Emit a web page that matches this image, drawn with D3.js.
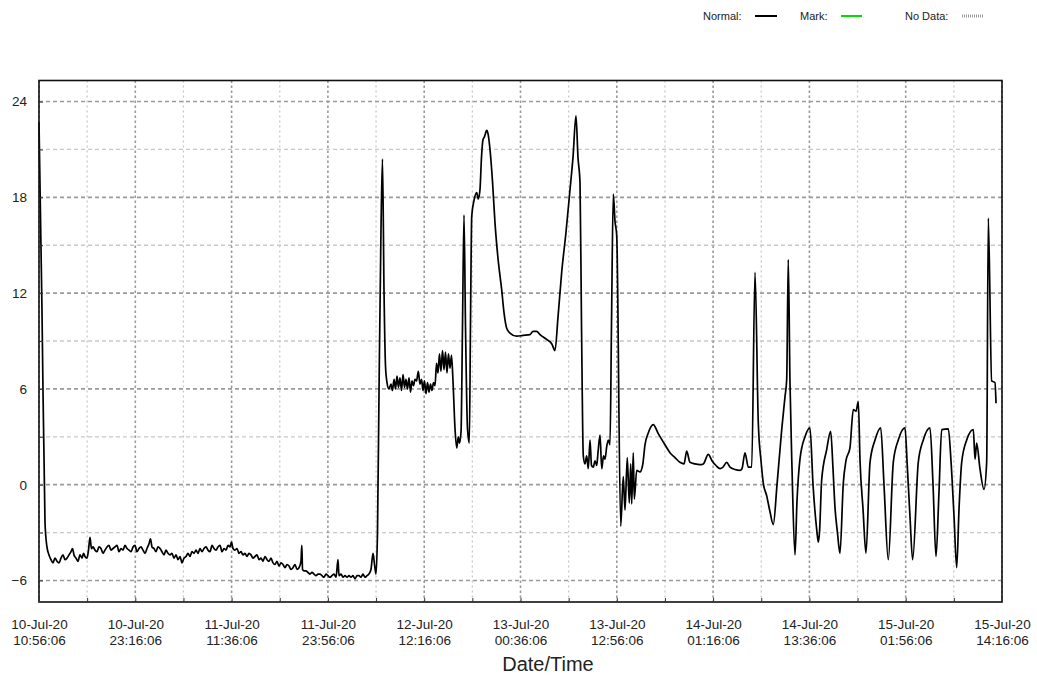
<!DOCTYPE html>
<html>
<head>
<meta charset="utf-8">
<script src="https://cdn.jsdelivr.net/npm/d3@7"></script>
<style>
  html, body { margin: 0; padding: 0; background: #fff; }
  text { font-family: "Liberation Sans", Arial, sans-serif; }
</style>
</head>
<body>
<svg id="chart" width="1037" height="675"></svg>
<script>
// ---------- data ----------
const startTime = "2020-07-10T10:56:06";
const endTime = "2020-07-15T14:16:06";
const tickStepMinutes = 740; // 12h20m between labelled ticks

// elapsed hours from startTime
const elapsedHours = [
  0, 0.38, 0.77, 1.02, 1.28, 1.54, 1.79, 2.05, 2.31, 2.56, 2.82, 3.07, 3.33, 3.59, 3.84, 4.10, 4.29, 4.48, 4.74, 4.99,
  5.25, 5.51, 5.70, 5.89, 6.15, 6.34, 6.53, 6.72, 6.92, 7.17, 7.43, 7.68, 7.94, 8.20, 8.45, 8.71, 8.96, 9.22, 9.48, 9.73,
  9.99, 10.25, 10.50, 10.76, 11.01, 11.27, 11.53, 11.78, 12.04, 12.29, 12.55, 12.81, 13.06, 13.32, 13.58, 13.83, 14.09, 14.28, 14.47, 14.73,
  14.98, 15.24, 15.50, 15.75, 16.01, 16.26, 16.52, 16.78, 17.03, 17.29, 17.55, 17.80, 18.06, 18.31, 18.57, 18.83, 19.08, 19.34, 19.59, 19.85,
  20.11, 20.36, 20.62, 20.88, 21.13, 21.39, 21.64, 21.90, 22.16, 22.41, 22.67, 22.92, 23.18, 23.44, 23.69, 23.95, 24.21, 24.46, 24.65, 24.85,
  25.10, 25.36, 25.61, 25.87, 26.13, 26.38, 26.64, 26.89, 27.15, 27.41, 27.66, 27.92, 28.18, 28.43, 28.69, 28.94, 29.20, 29.46, 29.71, 29.97,
  30.22, 30.48, 30.74, 30.99, 31.25, 31.51, 31.76, 32.02, 32.27, 32.53, 32.79, 33.04, 33.30, 33.55, 33.66, 33.75, 33.94, 34.19, 34.45, 34.71,
  34.96, 35.22, 35.48, 35.73, 35.99, 36.24, 36.50, 36.76, 37.01, 37.27, 37.52, 37.78, 38.04, 38.29, 38.42, 38.68, 38.93, 39.19, 39.45, 39.70,
  39.96, 40.21, 40.47, 40.73, 40.98, 41.24, 41.49, 41.75, 42.01, 42.26, 42.52, 42.78, 42.97, 43.16, 43.35, 43.55, 43.80, 43.99, 44.19, 44.38,
  44.57, 44.82, 45.08, 45.27, 45.47, 45.66, 45.85, 46.04, 46.23, 46.43, 46.62, 46.81, 47.00, 47.19, 47.39, 47.58, 47.77, 47.96, 48.15, 48.35,
  48.58, 48.79, 48.99, 49.18, 49.37, 49.56, 49.76, 49.95, 50.14, 50.33, 50.52, 50.72, 50.91, 51.10, 51.29, 51.48, 51.68, 51.87, 52.06, 52.25,
  52.44, 52.64, 52.83, 53.02, 53.28, 53.50, 53.70, 53.85, 54.05, 54.24, 54.43, 54.62, 54.88, 55.11, 55.26, 55.42, 55.71, 56.06, 56.26, 56.48,
  56.67, 56.86, 57.06, 57.34, 57.54, 57.76, 58.08, 58.40, 58.78, 59.26, 59.55, 59.90, 60.32, 61.18, 61.99, 62.88, 63.27, 63.74, 64.17, 65.02,
  65.70, 66.08, 66.47, 66.94, 67.49, 68.01, 68.39, 68.77, 69.03, 69.29, 69.48, 69.71, 69.93, 70.14, 70.35, 70.57, 70.76, 70.99, 71.21, 71.43,
  71.59, 71.85, 72.07, 72.30, 72.49, 72.71, 72.91, 73.13, 73.32, 73.55, 73.77, 73.99, 74.50, 74.83, 75.05, 75.34, 75.60, 75.78, 75.91, 76.11,
  76.24, 76.55, 76.97, 77.32, 77.61, 78.03, 78.67, 79.31, 80.17, 80.81, 81.45, 82.09, 82.61, 82.95, 83.37, 84.01, 84.65, 85.08, 85.72, 86.19,
  86.70, 87.22, 87.60, 88.07, 88.50, 89.14, 89.78, 90.03, 90.42, 90.84, 91.28, 91.70, 92.12, 92.47, 92.76, 93.20, 93.62, 94.04, 94.52, 95.12,
  95.54, 95.76, 95.96, 96.18, 96.44, 96.82, 97.08, 97.46, 98.10, 98.74, 99.13, 99.60, 99.81, 99.96, 100.24, 100.88, 101.39, 101.69, 101.94, 102.26,
  102.58, 103.01, 103.35, 103.86, 104.29, 104.64, 104.93, 105.15, 105.53, 105.91, 106.43, 107.07, 107.80, 108.22, 108.77, 109.41, 110.05, 110.91, 111.20, 111.55,
  111.89, 112.61, 113.25, 114.11, 114.50, 114.88, 115.26, 115.61, 116.46, 116.80, 117.19, 117.53, 117.83, 118.17, 118.81, 119.66, 119.88, 120.09, 120.51, 121.03,
  121.37, 121.58, 122.01, 122.43, 122.57
];

const temperature = [
  22.7, 11, -2.4, -3.9, -4.4, -4.7, -4.9, -4.6, -4.8, -4.9, -4.6, -4.4, -4.7, -4.6, -4.4, -4.2, -4.0, -4.4, -4.6, -4.8,
  -4.4, -4.6, -4.3, -4.5, -4.6, -4.1, -3.3, -4.0, -3.9, -4.1, -4.2, -3.9, -4.0, -4.3, -4.1, -3.9, -3.8, -4.1, -4.0, -3.9,
  -3.8, -4.2, -4.0, -4.1, -3.8, -4.0, -4.1, -4.2, -3.9, -3.8, -4.2, -4.0, -3.9, -4.1, -4.3, -4.0, -3.7, -3.4, -3.9, -4.0,
  -4.2, -3.9, -4.0, -4.2, -4.4, -4.1, -4.3, -4.4, -4.3, -4.6, -4.4, -4.7, -4.5, -4.9, -4.6, -4.5, -4.3, -4.5, -4.2, -4.3,
  -4.1, -4.3, -4.0, -4.2, -4.0, -3.9, -4.1, -4.2, -3.8, -4.0, -4.1, -3.9, -3.8, -4.2, -4.0, -4.1, -3.8, -3.9, -3.6, -4.0,
  -4.1, -4.0, -4.3, -4.2, -4.4, -4.3, -4.5, -4.3, -4.4, -4.6, -4.5, -4.4, -4.7, -4.6, -4.8, -4.5, -4.7, -4.8, -4.6, -4.9,
  -5.0, -4.8, -5.1, -4.9, -5.0, -5.2, -5.0, -5.1, -5.3, -5.2, -5.0, -5.3, -5.2, -4.8, -3.8, -5.3, -5.4, -5.4, -5.5, -5.6,
  -5.5, -5.6, -5.7, -5.6, -5.6, -5.7, -5.8, -5.6, -5.7, -5.8, -5.7, -5.6, -5.8, -4.7, -5.7, -5.6, -5.8, -5.7, -5.8, -5.7,
  -5.8, -5.7, -5.9, -5.7, -5.7, -5.8, -5.6, -5.8, -5.7, -5.6, -5.3, -4.3, -5.0, -5.6, -3.0, 6.0, 16.0, 20.4, 12.0, 7.4,
  6.4, 6.0, 6.3, 5.9, 6.6, 6.0, 6.8, 6.1, 6.7, 5.9, 6.9, 6.1, 6.6, 6.0, 6.7, 5.8, 6.5, 6.2, 6.6, 6.5,
  7.1, 6.3, 6.6, 5.9, 6.5, 5.7, 6.4, 5.8, 6.3, 5.9, 6.4, 6.2, 7.6, 7.0, 8.2, 7.1, 8.4, 7.2, 8.3, 7.0,
  8.2, 7.3, 8.1, 6.5, 3.5, 2.3, 3.0, 2.6, 3.3, 10, 16.9, 10, 3.5, 2.6, 10, 16.8, 17.8, 18.3, 17.9, 18.5,
  20.5, 21.6, 21.8, 22.2, 21.9, 21.0, 19.0, 16.4, 14.2, 12.2, 10.8, 9.8, 9.5, 9.3, 9.35, 9.4, 9.6, 9.6, 9.4, 9.1,
  8.8, 8.4, 10.5, 13.3, 15.8, 18.5, 20.5, 23.1, 20.5, 18.9, 10, 1.8, 1.3, 1.8, 1.0, 2.8, 1.2, 1.1, 1.5, 1.2,
  2.0, 3.1, 1.0, 1.8, 1.6, 2.4, 2.8, 2.5, 10, 18.2, 16.5, 15.6, -2.6, 0.5, -1.6, 1.7, -1.15, 1.3, -1.2, 2.0,
  -0.9, 0.9, 0.8, 1.25, 2.5, 3.24, 3.76, 3.2, 2.5, 2.0, 1.7, 1.4, 1.3, 2.1, 1.4, 1.3, 1.25, 1.3, 1.9, 1.5,
  1.2, 1.0, 1.1, 1.4, 1.1, 0.95, 0.9, 1.0, 2.0, 1.1, 1.1, 13.3, 3.9, 1.5, 0.1, -0.7, -1.7, -2.5, 0, 3.45,
  5.5, 6.6, 14.1, 6.4, 1.0, -4.4, -1.0, 1.6, 3.0, 3.56, 0, -2.8, -3.6, -3.0, 0.3, 2.2, 3.34, 1.0, -1.4, -3.0,
  -4.3, 0.1, 1.5, 2.3, 4.7, 4.6, 5.2, 1.5, -1.5, -4.3, 1.4, 2.8, 3.56, 0, -4.7, 1.4, 2.8, 3.56, 1.2, -2.0,
  -4.7, 1.4, 2.8, 3.56, 0, -4.5, -0.5, 3.45, 3.5, 1.5, -2.0, -5.2, -1.5, 1.4, 2.8, 3.45, 1.6, 2.6, 1.0, -0.3,
  1.4, 16.7, 6.5, 6.4, 5.1
];

const yMajorTicks = [-6, 0, 6, 12, 18, 24];
const yMinorTicks = [-3, 3, 9, 15, 21];
const xTickCount = 11;

const legendItems = ["Normal:", "Mark:", "No Data:"];
const xAxisTitle = "Date/Time";

// ---------- setup ----------
const svg = d3.select("#chart");
const W = 1037, H = 675;
const plot = { left: 39, right: 1002, top: 80.5, bottom: 602 };

svg.append("rect").attr("width", W).attr("height", H).attr("fill", "#fff");

const t0 = new Date(startTime);
const t1 = new Date(endTime);
const x = d3.scaleTime().domain([t0, t1]).range([plot.left, plot.right]);
const y = d3.scaleLinear().domain([-7.35, 25.32]).range([plot.bottom, plot.top]);

const data = elapsedHours.map((h, i) => ({ t: new Date(t0.getTime() + h * 3600000), v: temperature[i] }));

const majorTimes = d3.range(xTickCount).map(i => new Date(t0.getTime() + i * tickStepMinutes * 60000));
const minorTimes = d3.range(xTickCount - 1).map(i => new Date(t0.getTime() + (i + 0.5) * tickStepMinutes * 60000));

// ---------- grid ----------
const grid = svg.append("g");
grid.selectAll(".hmin").data(yMinorTicks).join("line")
  .attr("x1", plot.left).attr("x2", plot.right)
  .attr("y1", d => y(d)).attr("y2", d => y(d))
  .attr("stroke", "#c8c8c8").attr("stroke-width", 1.3).attr("stroke-dasharray", "4,3");
grid.selectAll(".vmin").data(minorTimes).join("line")
  .attr("x1", d => x(d)).attr("x2", d => x(d))
  .attr("y1", plot.top).attr("y2", plot.bottom)
  .attr("stroke", "#c8c8c8").attr("stroke-width", 1.3).attr("stroke-dasharray", "2,3");
grid.selectAll(".hmaj").data(yMajorTicks).join("line")
  .attr("x1", plot.left).attr("x2", plot.right)
  .attr("y1", d => y(d)).attr("y2", d => y(d))
  .attr("stroke", "#9a9a9a").attr("stroke-width", 1.6).attr("stroke-dasharray", "4,3");
grid.selectAll(".vmaj").data(majorTimes).join("line")
  .attr("x1", d => x(d)).attr("x2", d => x(d))
  .attr("y1", plot.top).attr("y2", plot.bottom)
  .attr("stroke", "#9a9a9a").attr("stroke-width", 1.6).attr("stroke-dasharray", "2.5,2.5");

// ---------- line ----------
const line = d3.line().curve(d3.curveMonotoneX).x(d => x(d.t)).y(d => y(d.v));
svg.append("path").datum(data)
  .attr("d", line)
  .attr("fill", "none")
  .attr("stroke", "#000")
  .attr("stroke-width", 1.7)
  .attr("stroke-linejoin", "round");

// ---------- frame ----------
svg.append("rect")
  .attr("x", plot.left).attr("y", plot.top)
  .attr("width", plot.right - plot.left).attr("height", plot.bottom - plot.top)
  .attr("fill", "none").attr("stroke", "#111").attr("stroke-width", 1.6);

// inner ticks
const allTimes = majorTimes.concat(minorTimes);
const bottomTicks = d3.axisBottom(x).tickValues(allTimes).tickSize(-4).tickFormat("");
svg.append("g").attr("transform", `translate(0,${plot.bottom})`).call(bottomTicks)
  .call(g => g.select(".domain").remove())
  .call(g => g.selectAll("line").attr("stroke", "#333"));
const leftTicks = d3.axisLeft(y).tickValues(yMajorTicks.concat(yMinorTicks)).tickSize(-4).tickFormat("");
svg.append("g").attr("transform", `translate(${plot.left},0)`).call(leftTicks)
  .call(g => g.select(".domain").remove())
  .call(g => g.selectAll("line").attr("stroke", "#333"));

// ---------- axes labels ----------
const fmtDate = d3.timeFormat("%d-%b-%y");
const fmtTime = d3.timeFormat("%H:%M:%S");
const xAxis = d3.axisBottom(x).tickValues(majorTimes).tickSize(0).tickPadding(0).tickFormat("");
const gx = svg.append("g").attr("transform", `translate(0,${plot.bottom})`).call(xAxis);
gx.select(".domain").remove();
gx.selectAll(".tick").each(function(d) {
  const t = d3.select(this).select("text");
  t.attr("y", 0).attr("dy", null)
    .attr("fill", "#222").attr("font-size", "13.5px")
    .attr("font-family", "'Liberation Sans', Arial, sans-serif");
  t.append("tspan").attr("x", 0).attr("y", 27).text(fmtDate(d));
  t.append("tspan").attr("x", 0).attr("y", 43).text(fmtTime(d));
});

const yAxis = d3.axisLeft(y).tickValues(yMajorTicks).tickSize(0).tickPadding(12).tickFormat(d3.format("d"));
const gy = svg.append("g").attr("transform", `translate(${plot.left},0)`).call(yAxis);
gy.select(".domain").remove();
gy.selectAll("text").attr("fill", "#222").attr("font-size", "13.5px")
  .attr("font-family", "'Liberation Sans', Arial, sans-serif");

svg.append("text")
  .attr("x", 548).attr("y", 671)
  .attr("text-anchor", "middle")
  .attr("font-size", "20px").attr("fill", "#222")
  .text(xAxisTitle);

// ---------- legend ----------
const legend = svg.append("g").attr("font-size", "11px").attr("fill", "#222");
const legendX = [703, 800, 905];
const legendLine = [[755, 777], [841, 862], [962, 983]];
legendItems.forEach((name, i) => {
  legend.append("text").attr("x", legendX[i]).attr("y", 20).text(name);
});
legend.append("line").attr("x1", legendLine[0][0]).attr("x2", legendLine[0][1]).attr("y1", 16).attr("y2", 16)
  .attr("stroke", "#000").attr("stroke-width", 2);
legend.append("line").attr("x1", legendLine[1][0]).attr("x2", legendLine[1][1]).attr("y1", 16).attr("y2", 16)
  .attr("stroke", "#00dd00").attr("stroke-width", 2);
legend.append("line").attr("x1", legendLine[2][0]).attr("x2", legendLine[2][1]).attr("y1", 16).attr("y2", 16)
  .attr("stroke", "#999").attr("stroke-width", 3).attr("stroke-dasharray", "1,1");
</script>
</body>
</html>
